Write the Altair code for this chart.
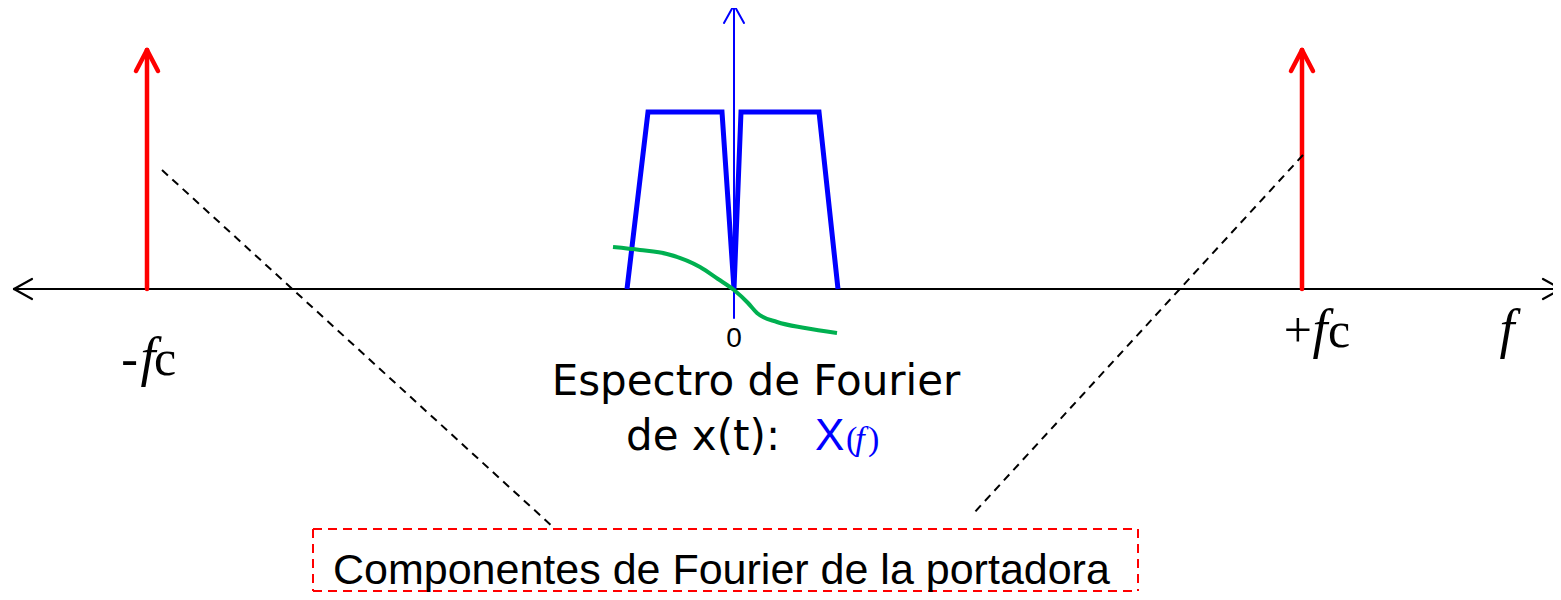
import altair as alt
import pandas as pd

# ---- diagram data (frequency units on x, amplitude units on y; origin at f=0) ----
# baseband spectrum |X(f)|
spec_f = [-107, -86, -12, 0, 7, 85, 104]
spec_amp = [0, 177, 177, 0, 177, 177, 0]
# phase curve (green)
phase_f = [-121, -94, -67, -34, -16, 0, 14, 23, 43, 71, 103]
phase_v = [42, 39, 35, 22, 10, -1, -14, -24, -33, -39, -44]
# carrier components at -fc and +fc
carrier_f = [-587, 568]
carrier_amp = [239, 239]
# frequency axis extent and vertical axis extent
faxis_f = [-720, 827]
vaxis_amp = [-29, 284]
# dashed callout lines (from, to)
call_f1 = [-572, 569]
call_a1 = [119, 134]
call_f2 = [-181, 239]
call_a2 = [-238, -225]
# callout box
box_f = [-421, 404]
box_a = [-240, -302]

# label pieces: sign, italic f, upright c
sign_text = ["-", "+"]
sign_f = [-596, 578]
sign_a = [-86, -58]
f_f = [-586, 586, 773]
f_a = [-86, -58, -58]
c_f = [-580, 594]
c_a = [-86, -58]

XD = [-726, 819]
YD = [-303, 281]

xs = alt.Scale(domain=XD, nice=False, zero=False)
ys = alt.Scale(domain=YD, nice=False, zero=False)


def X(f="x"):
    return alt.X(f, type="quantitative", scale=xs, axis=None)


def Y(f="y"):
    return alt.Y(f, type="quantitative", scale=ys, axis=None)


def seg_layer(rows, color, width, dash=None):
    df = pd.DataFrame(rows, columns=["x", "y", "x2", "y2"])
    kw = dict(color=color, strokeWidth=width, strokeCap="round")
    if dash:
        kw["strokeDash"] = dash
        kw["strokeCap"] = "butt"
    return alt.Chart(df).mark_rule(**kw).encode(
        x=X("x"), y=Y("y"), x2="x2", y2="y2")


layers = []

# horizontal frequency axis with arrowheads at both ends
fa0, fa1 = faxis_f
ax_rows = [
    [fa0, 0, fa1, 0],
    [fa0, 0, fa0 + 18, 10], [fa0, 0, fa0 + 18, -10],
    [fa1, 0, fa1 - 18, 10], [fa1, 0, fa1 - 18, -10],
]
layers.append(seg_layer(ax_rows, "black", 2.2))

# red carrier arrows
red_rows = []
for f, a in zip(carrier_f, carrier_amp):
    red_rows += [[f, 0, f, a], [f, a, f - 11, a - 21], [f, a, f + 11, a - 21]]
layers.append(seg_layer(red_rows, "#ff0000", 4.5))

# blue spectrum
spec_df = pd.DataFrame({"x": spec_f, "y": spec_amp, "o": range(len(spec_f))})
layers.append(alt.Chart(spec_df).mark_line(color="#0000ff", strokeWidth=5,
                                           strokeJoin="miter").encode(
    x=X(), y=Y(), order="o:Q"))

# blue vertical axis
v0, v1 = vaxis_amp
blue_rows = [[0, v0, 0, v1], [0, v1, -10, v1 - 18], [0, v1, 10, v1 - 18]]
layers.append(seg_layer(blue_rows, "#0000ff", 2))

# green phase curve
ph_df = pd.DataFrame({"x": phase_f, "y": phase_v, "o": range(len(phase_f))})
layers.append(alt.Chart(ph_df).mark_line(color="#00b050", strokeWidth=4,
                                         interpolate="monotone").encode(
    x=X(), y=Y(), order="o:Q"))

# dashed callout lines
dash_rows = [[a, b, c, d] for a, b, c, d in zip(call_f1, call_a1, call_f2, call_a2)]
layers.append(seg_layer(dash_rows, "black", 2, dash=[8, 6]))

# callout box
b0, b1 = box_f
t0, t1 = box_a
box_rows = [[b0, t0, b1, t0], [b0, t1, b1, t1], [b0, t0, b0, t1], [b1, t0, b1, t1]]
layers.append(seg_layer(box_rows, "#ff0000", 2, dash=[9, 6]))


def txt_df(texts, xs_, ys_):
    return pd.DataFrame({"x": xs_, "y": ys_, "t": texts})


def txt_layer(df, size, align="left", color="black", font="Liberation Sans", style=None):
    kw = dict(font=font, fontSize=size, baseline="alphabetic", align=align, color=color)
    if style:
        kw["fontStyle"] = style
    return alt.Chart(df).mark_text(**kw).encode(x=X(), y=Y(), text="t:N")


# serif f labels: sign, italic f, upright c
layers.append(txt_layer(txt_df(sign_text, sign_f, sign_a), 50, align="right",
                        font="Liberation Serif"))
layers.append(txt_layer(txt_df(["f"] * 3, f_f, f_a), 54, align="center",
                        font="Liberation Serif", style="italic"))
layers.append(txt_layer(txt_df(["c", "c"], c_f, c_a), 50, align="left",
                        font="Liberation Serif"))

layers.append(txt_layer(txt_df(["0"], [0], [-58]), 28, align="center"))
layers.append(txt_layer(txt_df(["Espectro de Fourier"], [22], [-106]), 42,
                        align="center", font="DejaVu Sans"))
layers.append(txt_layer(txt_df(["de x(t):"], [-108], [-161]), 42, font="DejaVu Sans"))
layers.append(txt_layer(txt_df(["X"], [81], [-161]), 44, color="#0000ff"))
layers.append(txt_layer(txt_df(["("], [112], [-161]), 34, color="#0000ff",
                        font="Liberation Serif"))
layers.append(txt_layer(txt_df(["f"], [126], [-161]), 34, align="center", color="#0000ff",
                        font="Liberation Serif", style="italic"))
layers.append(txt_layer(txt_df([")"], [134], [-161]), 34, color="#0000ff",
                        font="Liberation Serif"))
layers.append(txt_layer(txt_df(["Componentes de Fourier de la portadora"], [-401], [-295]),
                        43, font="Liberation Sans"))

chart = alt.layer(*layers).properties(
    width=1545, height=584,
    autosize=alt.AutoSizeParams(type="none"),
    padding=0,
).configure_view(stroke=None)

chart.save("out.html", embed_options={"renderer": "svg", "actions": False})
